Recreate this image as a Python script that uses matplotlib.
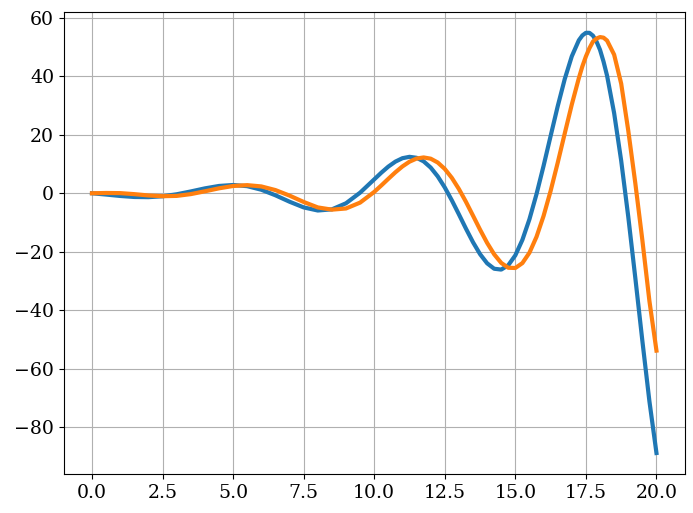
import numpy as np
import matplotlib
matplotlib.use("Agg")
import matplotlib.pyplot as plt

plt.rcParams['font.family'] = 'DejaVu Serif'
plt.rcParams['font.size'] = 13.6

# x positions: coarse on the flat part, finer where the curves swing hard
x_lo = [0.0, 0.5, 1.0, 1.5, 2.0, 2.5, 3.0, 3.5, 4.0, 4.5,
        5.0, 5.5, 6.0, 6.5, 7.0, 7.5, 8.0, 8.5, 9.0, 9.5]
x_hi = [10.0, 10.25, 10.5, 10.75, 11.0, 11.25, 11.5, 11.75, 12.0, 12.25,
        12.5, 12.75, 13.0, 13.25, 13.5, 13.75, 14.0, 14.25, 14.5, 14.75,
        15.0, 15.25, 15.5, 15.75, 16.0, 16.25, 16.5, 16.75, 17.0, 17.25,
        17.375, 17.5, 17.625, 17.75, 17.875, 18.0, 18.125, 18.25, 18.5, 18.75,
        19.0, 19.25, 19.5, 19.75, 20.0]

# blue series
blue_lo = [0.0, -0.44, -0.92, -1.27, -1.33, -1.03, -0.35, 0.62, 1.67, 2.50,
           2.83, 2.43, 1.21, -0.69, -2.89, -4.83, -5.89, -5.50, -3.42, 0.21]
blue_hi = [4.75, 7.03, 9.12, 10.82, 11.99, 12.46, 12.13, 10.92, 8.79, 5.78,
           1.99, -2.42, -7.20, -12.09, -16.74, -20.81, -23.94, -25.80, -26.09, -24.60,
           -21.21, -15.92, -8.86, -0.29, 9.36, 19.58, 29.70, 39.04, 46.82, 52.31,
           53.96, 54.86, 54.85, 53.89, 51.9, 49.05, 45.0, 40.20, 27.42, 11.14,
           -7.95, -28.88, -50.42, -71.09, -88.8]

# orange series (lags the blue one a little)
orange_lo = [0.0, 0.1, 0.05, -0.3, -0.75, -1.0, -0.9, -0.29, 0.67, 1.69,
             2.49, 2.78, 2.34, 1.09, -0.80, -2.97, -4.84, -5.6, -5.2, -3.19]
orange_hi = [0.46, 2.66, 4.94, 7.17, 9.18, 10.80, 11.87, 12.25, 11.83, 10.52,
             8.32, 5.27, 1.46, -2.92, -7.65, -12.44, -16.96, -20.87, -23.81, -25.46,
             -25.55, -23.87, -20.31, -14.89, -7.76, 0.80, 10.39, 20.44, 30.34, 39.37,
             43.4, 46.78, 49.6, 51.86, 52.9, 53.4, 53.2, 52.2, 47.4, 37.5,
             21.5, 3.5, -16.0, -36.8, -53.8]

x = np.array(x_lo + x_hi)
blue = np.array(blue_lo + blue_hi)
orange = np.array(orange_lo + orange_hi)

fig = plt.figure(figsize=(6.93, 5.13), dpi=100)
ax = fig.add_axes([0.092, 0.076, 0.896, 0.901])

ax.plot(x, blue, color='tab:blue', linewidth=3)
ax.plot(x, orange, color='tab:orange', linewidth=3)
ax.grid(True)

fig.savefig('out.png', dpi=100)
